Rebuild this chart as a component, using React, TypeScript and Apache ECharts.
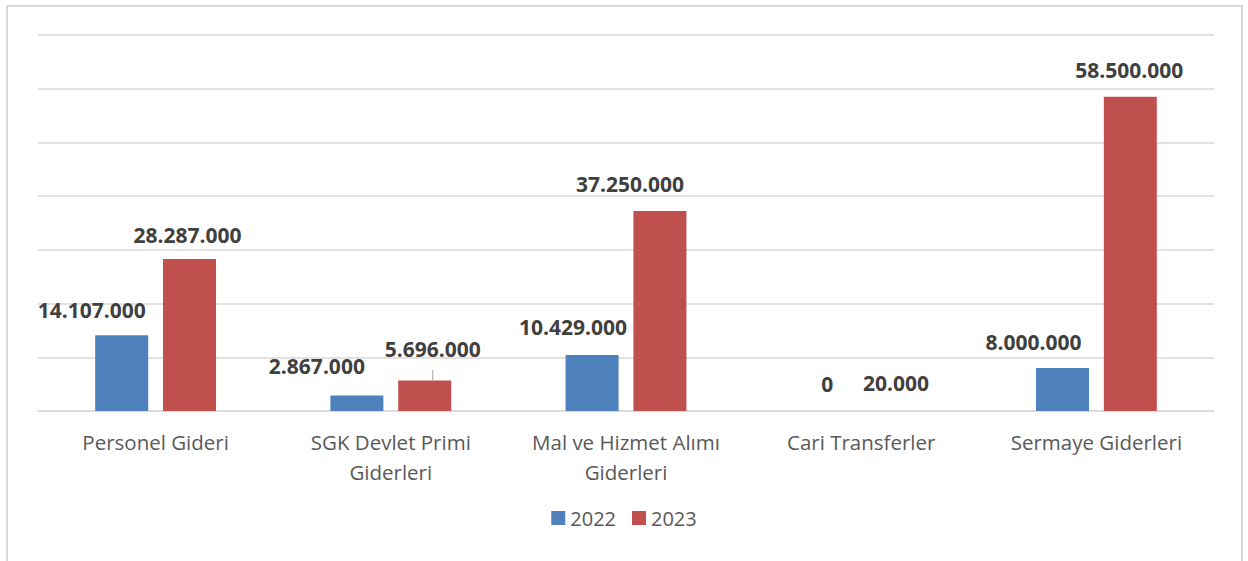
import React, { useEffect, useRef } from "react";
import * as echarts from "echarts";

const categories = [
  "Personel Gideri",
  "SGK Devlet Primi\nGiderleri",
  "Mal ve Hizmet Alımı\nGiderleri",
  "Cari Transferler",
  "Sermaye Giderleri",
];
const values2022 = [14107000, 2867000, 10429000, 0, 8000000];
const values2023 = [28287000, 5696000, 37250000, 20000, 58500000];
const seriesNames = ["2022", "2023"];

// label placement tweaks (style, not data)
const offsets2022 = [[-30, -10], [-40, -14], [-19, -12], [0, -12], [-29, -11]];
const offsets2023 = [[-2, -9], [8, -16], [-30, -11], [1, -12], [-1, -11]];

const fmt = (v: number) => String(Math.round(v)).replace(/\B(?=(\d{3})+(?!\d))/g, ".");

export default function App() {
  const ref = useRef<HTMLDivElement>(null);
  useEffect(() => {
    if (!ref.current) return;
    const chart = echarts.init(ref.current, null, { renderer: "svg" });
    const labelBase = {
      show: true,
      position: "top",
      distance: 5,
      fontFamily: "Open Sans",
      fontWeight: "bold",
      fontSize: 21,
      color: "#404040",
      formatter: (p: any) => fmt(p.value),
    };
    const mk = (vals: number[], offs: number[][], leaderIdx: number) =>
      vals.map((v, i) => ({
        value: v,
        label: { offset: offs[i] },
        labelLine: i === leaderIdx ? { show: true, lineStyle: { color: "#a6a6a6", width: 1 } } : undefined,
      }));
    chart.setOption({
      animation: false,
      graphic: [
        {
          type: "rect",
          shape: { x: 7, y: 6, width: 1235, height: 600 },
          style: { fill: "none", stroke: "#d9d9d9", lineWidth: 2 },
          silent: true,
        },
      ],
      grid: { left: 38, right: 34, top: 35, bottom: 150, containLabel: false },
      legend: {
        bottom: 28,
        left: "center",
        itemWidth: 14,
        itemHeight: 14,
        itemGap: 16,
        icon: "rect",
        textStyle: { fontFamily: "Open Sans", fontSize: 20, color: "#595959" },
        data: seriesNames,
      },
      xAxis: {
        type: "category",
        data: categories,
        axisTick: { show: false },
        axisLine: { show: true, lineStyle: { color: "#d9d9d9", width: 1.5 } },
        axisLabel: {
          fontFamily: "Open Sans",
          fontSize: 20.5,
          color: "#595959",
          lineHeight: 30,
          margin: 16,
          interval: 0,
        },
      },
      yAxis: {
        type: "value",
        min: 0,
        max: 70000000,
        interval: 10000000,
        axisLabel: { show: false },
        axisLine: { show: false },
        axisTick: { show: false },
        splitLine: { lineStyle: { color: "#d9d9d9", width: 1.5 } },
      },
      series: [
        {
          name: seriesNames[0],
          type: "bar",
          barWidth: 53,
          barGap: "28%",
          itemStyle: { color: "#4f81bd" },
          label: labelBase,
          data: mk(values2022, offsets2022, -1),
        },
        {
          name: seriesNames[1],
          type: "bar",
          barWidth: 53,
          itemStyle: { color: "#c0504d" },
          label: labelBase,
          data: mk(values2023, offsets2023, 1),
        },
      ],
    });
    return () => chart.dispose();
  }, []);
  return (
    <div
      ref={ref}
      style={{ position: "fixed", left: 0, top: 0, width: 1248, height: 561, background: "#fff" }}
    />
  );
}
